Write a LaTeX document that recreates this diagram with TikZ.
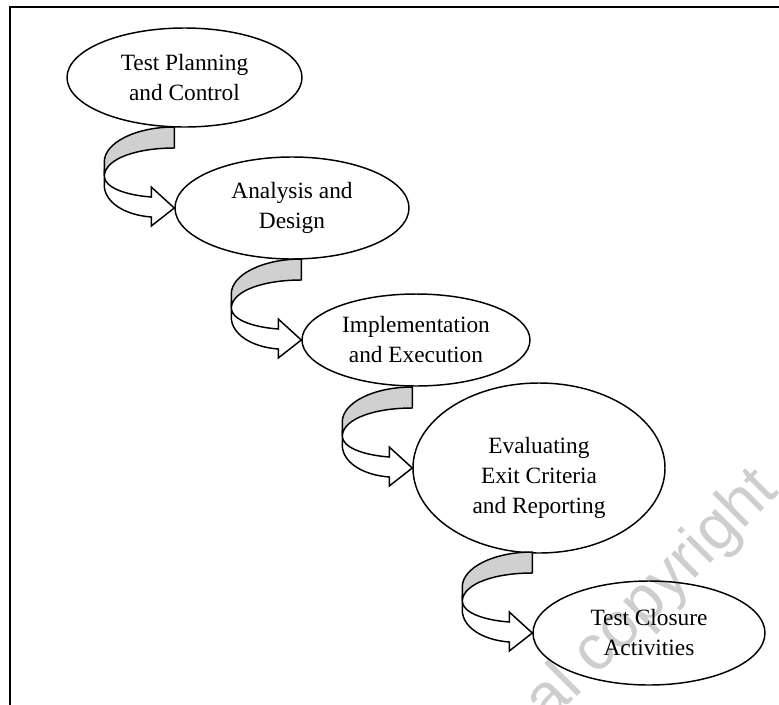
\documentclass[tikz,border=0pt]{standalone}
\usepackage{fontspec}
\setmainfont{Liberation Serif}
\newfontfamily\wmfont{Liberation Sans}
\usetikzlibrary{shapes.geometric}
\definecolor{bandgray}{RGB}{208,208,208}
\definecolor{wmgray}{RGB}{206,206,206}
\begin{document}
\begin{tikzpicture}[x=0.75pt,y=-0.75pt,
  phasetext/.style={inner sep=0pt, align=center, font=\fontsize{17.5}{22.5}\selectfont},
  phase/.style={ellipse, draw, line width=1.1pt, phasetext},
  bandline/.style={draw=black, line width=1.1pt, line join=miter},
  frameline/.style={draw=black, line width=1.5pt},
  wm/.style={text=wmgray, font=\wmfont\fontsize{48}{48}\selectfont, rotate=45, inner sep=0pt},
  % twisted ribbon arrow; origin at the arrow tip
  twist/.pic={
    \filldraw[bandline, fill=white]
      (-70,-32) .. controls (-70,-21) and (-50,-13) .. (-23,-11)
      -- (-23,-21) -- (0,0) -- (-23,18) -- (-23,9)
      .. controls (-50,7) and (-70,-6) .. (-70,-23) -- cycle;
    \filldraw[bandline, fill=bandgray]
      (0,-81) .. controls (-38.6,-81) and (-70,-65.3) .. (-70,-46)
      -- (-70,-32) .. controls (-69,-50) and (-36,-60) .. (0,-60) -- cycle;
  }]
\useasboundingbox (0,0) rectangle (779,704);
\begin{scope}
\clip (0,0) rectangle (779,704);
\node[wm] (wm) at (653,597) {al copyright};
\draw[frameline] (10,720) |- (800,7);

\node[phase, minimum width=176.25pt, minimum height=74.25pt] (e1) at (184.5,77.5)
  {Test Planning\\and Control};
\node[phase, minimum width=175.5pt, minimum height=76.5pt] (e2) at (292,208)
  {Analysis and\\Design};
\node[phase, minimum width=171pt, minimum height=69pt] (e3) at (416,340)
  {Implementation\\and Execution};
\node[phase, minimum width=189pt, minimum height=127.5pt] (e4) at (539,468) {};
\node[phasetext] (e4t) at (539,478) {Evaluating\\Exit Criteria\\and Reporting};
\node[phase, minimum width=174pt, minimum height=78pt] (e5) at (649,633)
  {Test Closure\\Activities};

\pic at (e2.west) {twist};
\pic at (e3.west) {twist};
\pic at (e4.west) {twist};
\pic at (e5.west) {twist};
\end{scope}
\end{tikzpicture}
\end{document}
